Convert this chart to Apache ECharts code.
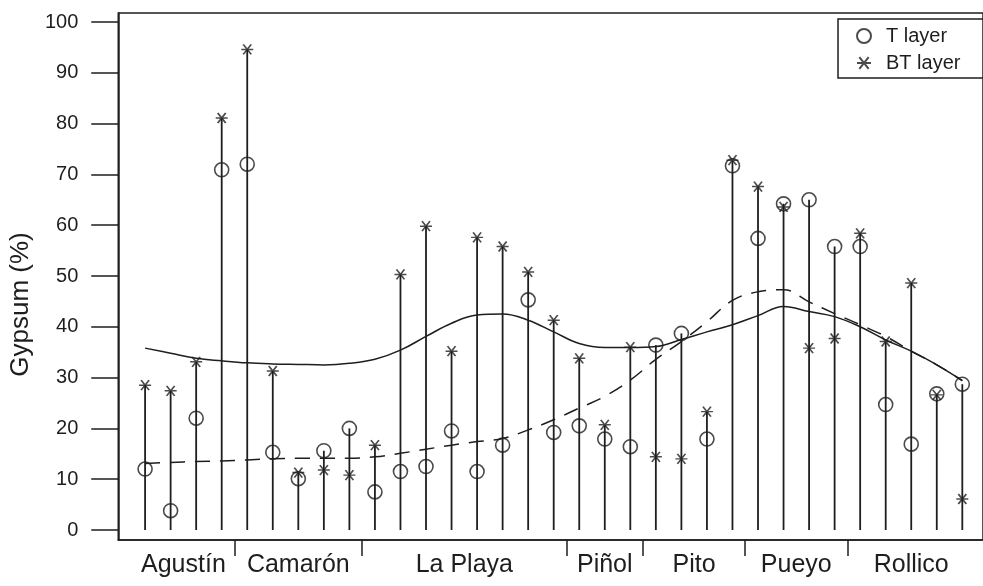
<!DOCTYPE html>
<html>
<head>
<meta charset="utf-8">
<script src="https://cdn.jsdelivr.net/npm/echarts@6/dist/echarts.min.js"></script>
<style>
    html, body { margin: 0; padding: 0; background: #fff; }
    #main { width: 983px; height: 586px; }
</style>
</head>
<body>
<div id="main"></div>
<script>
// sites and how many samples each one has (in plot order)
var groups = ['Agustín', 'Camarón', 'La Playa', 'Piñol', 'Pito', 'Pueyo', 'Rollico'];
var groupSizes = [4, 5, 8, 3, 4, 4, 5];

// gypsum (%) per sample
var tLayer = [12.0, 3.8, 22.0, 70.9, 72.0, 15.3, 10.1, 15.6, 20.0, 7.5, 11.5,
    12.5, 19.5, 11.5, 16.7, 45.3, 19.2, 20.5, 17.9, 16.4, 36.4, 38.7, 17.9,
    71.7, 57.4, 64.2, 65.0, 55.8, 55.8, 24.7, 16.9, 26.8, 28.7];
var btLayer = [28.5, 27.4, 33.1, 81.1, 94.6, 31.3, 11.3, 11.8, 10.8, 16.7, 50.3,
    59.8, 35.2, 57.6, 55.8, 50.8, 41.3, 33.8, 20.7, 36.0, 14.4, 14.0, 23.3,
    72.8, 67.6, 63.6, 35.8, 37.7, 58.4, 37.1, 48.6, 26.6, 6.1];

// smoothed trends at each sample
var trendSolid = [35.8, 34.8, 33.8, 33.3, 32.9, 32.7, 32.6, 32.5, 32.8, 33.6, 35.4,
    38.1, 40.7, 42.3, 42.5, 41.3, 39.0, 36.7, 35.9, 35.9, 36.1, 37.5, 39.0,
    40.4, 42.2, 44.0, 43.0, 42.0, 40.0, 37.4, 35.2, 32.5, 29.4];
var trendDashed = [13.1, 13.3, 13.5, 13.6, 13.8, 14.0, 14.1, 14.1, 14.1, 14.4, 15.1,
    15.9, 16.7, 17.4, 18.0, 19.7, 21.7, 24.0, 26.3, 29.5, 33.6, 37.1, 41.0,
    45.2, 46.9, 47.3, 44.9, 42.6, 40.4, 38.1, 35.2, 32.5, 29.4];

var yTicks = [0, 10, 20, 30, 40, 50, 60, 70, 80, 90, 100];

(function () {
    var ink = '#1e1e1e';
    var font = 'Liberation Sans, Arial, sans-serif';

    // separators between sites and label position in the middle of each site
    var separators = [], centers = [];
    var start = 0;
    for (var g = 0; g < groupSizes.length; g++) {
        centers.push(start + (groupSizes[g] - 1) / 2);
        start += groupSizes[g];
        if (g < groupSizes.length - 1) separators.push(start - 0.5);
    }

    var toPairs = function (arr) {
        return arr.map(function (v, i) { return [i, v]; });
    };
    var stems = tLayer.map(function (v, i) { return [i, Math.max(v, btLayer[i])]; });

    var star = 'path://M0,5H12M2,0L10,10M10,0L2,10';

    var myChart = echarts.init(document.getElementById('main'));
    var option = {
        animation: false,
        backgroundColor: '#fff',
        grid: {
            left: 117, top: 13, right: -5, bottom: 46,
            show: true, borderColor: ink, borderWidth: 1.5
        },
        legend: {
            left: 838, top: 19,
            orient: 'vertical',
            data: ['T layer', 'BT layer'],
            itemWidth: 14, itemHeight: 14, itemGap: 7,
            padding: [7, 40, 5, 18],
            borderColor: ink, borderWidth: 1.5,
            textStyle: { fontFamily: font, fontSize: 20, color: ink, padding: [0, 0, 0, 10] }
        },
        xAxis: {
            type: 'value',
            min: -1.05, max: 32.81,
            splitLine: { show: false },
            axisLine: { onZero: false, lineStyle: { color: ink, width: 1.5 } },
            axisTick: {
                customValues: separators, length: 16,
                lineStyle: { color: ink, width: 1.5 }
            },
            axisLabel: {
                customValues: centers, margin: 13,
                fontFamily: font, fontSize: 25, color: ink,
                formatter: function (val) {
                    for (var k = 0; k < centers.length; k++) {
                        if (Math.abs(centers[k] - val) < 1e-6) return groups[k];
                    }
                    return '';
                }
            }
        },
        yAxis: {
            type: 'value',
            min: -1.97, max: 101.77,
            name: 'Gypsum (%)',
            nameLocation: 'middle',
            nameGap: 80,
            nameTextStyle: { fontFamily: font, fontSize: 26, color: ink, padding: [0, 56, 0, 0] },
            splitLine: { show: false },
            axisLine: { onZero: false, lineStyle: { color: ink, width: 1.5 } },
            axisTick: {
                customValues: yTicks, length: 27,
                lineStyle: { color: ink, width: 1.5 }
            },
            axisLabel: {
                customValues: yTicks, margin: 40,
                fontFamily: font, fontSize: 20, color: ink
            }
        },
        series: [{
            name: 'stems',
            type: 'custom',
            silent: true,
            z: 1,
            renderItem: function (params, api) {
                var top = api.coord([api.value(0), api.value(1)]);
                var base = api.coord([api.value(0), 0]);
                return {
                    type: 'line',
                    shape: { x1: base[0], y1: base[1], x2: top[0], y2: top[1] },
                    style: { stroke: ink, lineWidth: 1.8 }
                };
            },
            data: stems
        }, {
            name: 'trend solid',
            type: 'line',
            z: 2,
            smooth: 0.4,
            showSymbol: false,
            lineStyle: { color: ink, width: 1.5 },
            data: toPairs(trendSolid)
        }, {
            name: 'trend dashed',
            type: 'line',
            z: 2,
            smooth: 0.4,
            showSymbol: false,
            lineStyle: { color: ink, width: 1.5, type: [15, 10] },
            data: toPairs(trendDashed)
        }, {
            name: 'T layer',
            type: 'scatter',
            z: 3,
            symbol: 'circle',
            symbolSize: 14,
            itemStyle: { color: 'rgba(0,0,0,0)', borderColor: ink, borderWidth: 1.6 },
            data: toPairs(tLayer)
        }, {
            name: 'BT layer',
            type: 'scatter',
            z: 4,
            symbol: star,
            symbolSize: [12, 10],
            itemStyle: { color: ink, borderColor: ink, borderWidth: 1.6 },
            data: toPairs(btLayer)
        }]
    };
    myChart.setOption(option);
})();
</script>
</body>
</html>
